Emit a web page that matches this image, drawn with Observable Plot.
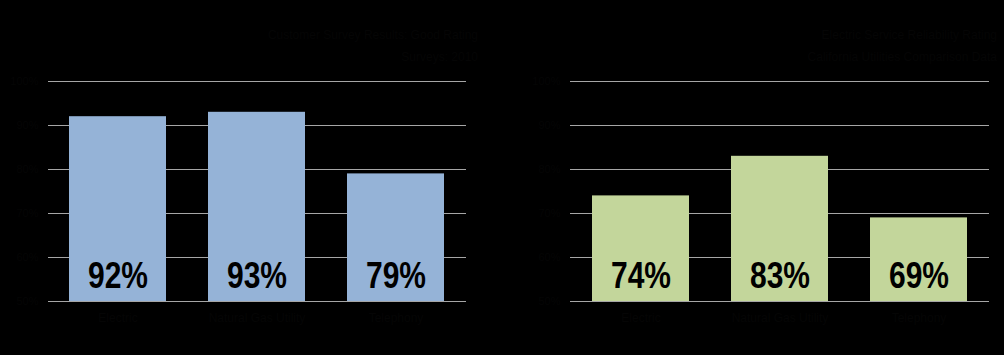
<!DOCTYPE html>
<html>
<head>
<meta charset="utf-8">
<script src="https://cdn.jsdelivr.net/npm/d3@7"></script>
<script src="https://cdn.jsdelivr.net/npm/@observablehq/plot@0.6"></script>
<style>
  html, body { margin: 0; padding: 0; background: #000; }
  #wrap { position: relative; width: 1004px; height: 355px; background: #000; overflow: hidden; font-family: "Liberation Sans", Arial, sans-serif; }
  .panel { position: absolute; top: 0; width: 502px; height: 355px; }
  .title { position: absolute; top: 24px; right: 24px; text-align: right; font-size: 12px; line-height: 22px; color: #050505; white-space: nowrap; z-index: 2; }
  .panel svg { position: absolute; left: 0; top: 0; }
</style>
</head>
<body>
<div id="wrap">
  <div class="panel" id="left"><div class="title" id="lt"></div></div>
  <div class="panel" id="right" style="left:502px"><div class="title" id="rt" style="right:7px"></div></div>
</div>
<script>
const categories = ["Electric", "Natural Gas Utility", "Telephony"];
const leftValues = [0.92, 0.93, 0.79];
const rightValues = [0.74, 0.83, 0.69];
const yTicks = [0.5, 0.6, 0.7, 0.8, 0.9, 1.0];
const tickLabels = ["50%", "60%", "70%", "80%", "90%", "100%"];
const leftTitle = ["Customer Survey Results: Good Rating", "Surveys: 2010"];
const rightTitle = ["Electric Service Reliability Rating", "California Utilities Comparison Data"];

function setTitle(el, lines) {
  lines.forEach((t, i) => {
    if (i) el.appendChild(document.createElement("br"));
    el.appendChild(document.createTextNode(t));
  });
}
setTitle(document.getElementById("lt"), leftTitle);
setTitle(document.getElementById("rt"), rightTitle);

const textColor = "#050505";

function chart(values, color, marginLeft, marginRight) {
  const data = categories.map((c, i) => ({category: c, value: values[i], label: Math.round(values[i] * 100) + "%"}));
  const svg = Plot.plot({
    width: 502,
    height: 355,
    marginTop: 81,
    marginBottom: 54,
    marginLeft,
    marginRight,
    style: {background: "transparent", color: textColor, fontFamily: "Liberation Sans, Arial, sans-serif", fontSize: "11px"},
    x: {domain: categories, paddingInner: 0.3, paddingOuter: 0.15, label: null},
    y: {domain: [0.5, 1.0], label: null},
    marks: [
      Plot.ruleY(yTicks, {stroke: "#a6a6a6", strokeWidth: 1}),
      Plot.barY(data, {x: "category", y1: 0.5, y2: "value", fill: color}),
      Plot.text(data, {x: "category", y: 0.5, text: "label", lineAnchor: "bottom", dy: -14, fill: "#000",
        fontSize: 36, fontWeight: "bold", fontFamily: "Liberation Sans, Arial, sans-serif", className: "vlabel"}),
      Plot.axisY({ticks: yTicks, tickFormat: (d) => tickLabels[yTicks.indexOf(d)], tickSize: 0, tickPadding: 10, fontSize: 11, fill: textColor}),
      Plot.axisX({tickSize: 0, tickPadding: 12, fontSize: 12, fill: textColor})
    ]
  });
  // condense the big value labels to match the narrow bold face of the original
  d3.select(svg).selectAll(".vlabel text")
    .attr("textLength", 60)
    .attr("lengthAdjust", "spacingAndGlyphs");
  return svg;
}

document.getElementById("left").appendChild(chart(leftValues, "#95b3d7", 48, 36));
document.getElementById("right").appendChild(chart(rightValues, "#c3d69b", 68, 15));
</script>
</body>
</html>
